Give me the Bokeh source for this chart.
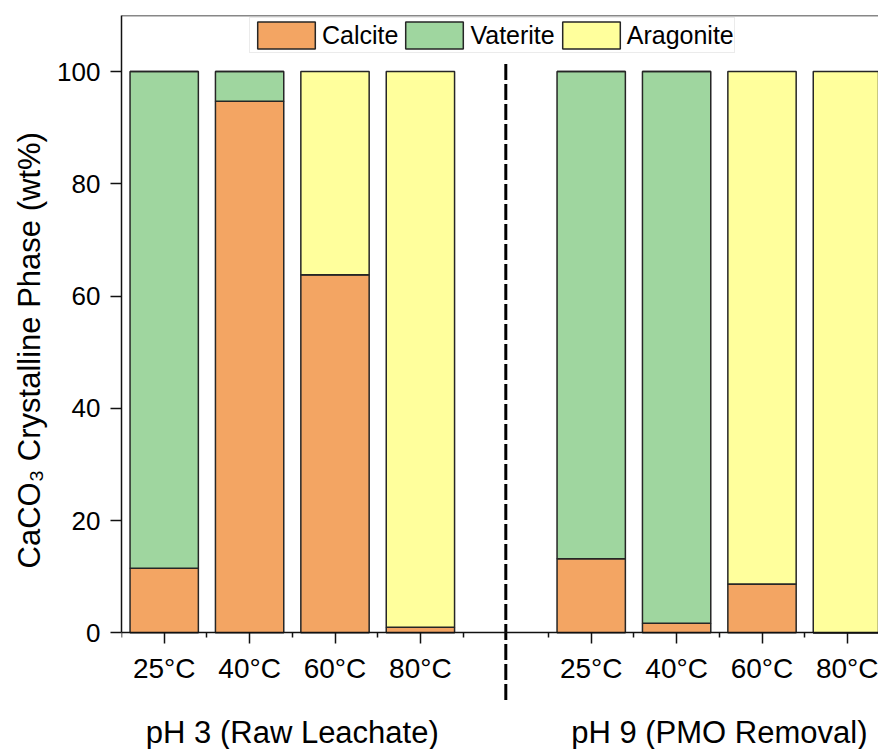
from bokeh.plotting import figure
from bokeh.models import (ColumnDataSource, FixedTicker, LinearAxis, Range1d,
                          Legend, LegendItem, Title)
from bokeh.core.properties import value
from bokeh.embed import file_html
from bokeh.resources import INLINE

# ---- data ----
positions = [1, 2, 3, 4, 6, 7, 8, 9]
temp_labels = ["25°C", "40°C", "60°C", "80°C", "25°C", "40°C", "60°C", "80°C"]
calcite = [11.5, 94.7, 63.8, 1.0, 13.2, 1.7, 8.7, 0.0]
vaterite = [88.5, 5.3, 0.0, 0.0, 86.8, 98.3, 0.0, 0.0]
aragonite = [0.0, 0.0, 36.2, 99.0, 0.0, 0.0, 91.3, 100.0]
phases = ["Calcite", "Vaterite", "Aragonite"]
group_x = [2.5, 7.5]
group_labels = ["pH 3 (Raw Leachate)", "pH 9 (PMO Removal)"]
divider_x = 5
y_ticks = [0, 20, 40, 60, 80, 100]
minor_x = [0.5, 1.5, 2.5, 3.5, 4.5, 5.5, 6.5, 7.5, 8.5, 9.5]
y_title = "CaCO₃ Crystalline Phase (wt%)"

colors = ["#F3A563", "#9FD69F", "#FFFF9C"]
FONT = "Liberation Sans"

src = ColumnDataSource(dict(x=positions, Calcite=calcite, Vaterite=vaterite,
                            Aragonite=aragonite))

p = figure(width=878, height=749, output_backend="svg", toolbar_location=None,
           x_range=Range1d(0.5, 9.364), y_range=Range1d(-20.8, 110),
           x_axis_location=None, y_axis_location=None,
           min_border_left=121, min_border_right=0, min_border_top=15,
           min_border_bottom=0)
p.outline_line_color = None
p.grid.visible = False
p.background_fill_color = "white"

rs = p.vbar_stack(phases, x="x", width=0.8, source=src, color=colors,
                  line_color="#262626", line_width=1.5)

# divider line
p.segment(x0=[divider_x], y0=[-12.0], x1=[divider_x], y1=[101.5],
          line_color="black", line_width=3, line_dash="16 4")

# group labels
p.text(x=group_x, y=[-17.7, -17.7], text=group_labels,
       text_font=value(FONT), text_font_size="31px", text_align="center",
       text_baseline="middle", text_color="black")

# y axis
yax = LinearAxis(ticker=FixedTicker(ticks=y_ticks), bounds=(0, 110))
yax.major_label_text_font = FONT
yax.major_label_text_font_size = "26px"
yax.major_label_text_color = "black"
yax.major_label_standoff = 10
yax.major_tick_out = 11
yax.major_tick_in = 0
yax.minor_tick_line_color = None
yax.axis_line_width = 1.5
yax.major_tick_line_width = 1.5
yax.axis_line_color = "#111111"
yax.major_tick_line_color = "#111111"
p.add_layout(yax, "left")

# y axis title as a side title (so it can be positioned like the original)
ytitle = Title(text=y_title, align="left", offset=181, standoff=16,
               text_font=FONT, text_font_size="31px", text_font_style="normal",
               text_color="black")
p.add_layout(ytitle, "left")

# x axis fixed at y = 0
xax = LinearAxis(ticker=FixedTicker(ticks=positions, minor_ticks=minor_x),
                 fixed_location=0)
xax.major_label_overrides = {pos: lab for pos, lab in zip(positions, temp_labels)}
xax.major_label_text_font = FONT
xax.major_label_text_font_size = "28px"
xax.major_label_text_color = "black"
xax.major_label_standoff = 9
xax.major_tick_out = 11
xax.major_tick_in = 0
xax.minor_tick_out = 5
xax.minor_tick_in = 0
xax.axis_line_width = 1.5
xax.major_tick_line_width = 1.5
xax.minor_tick_line_width = 1.5
xax.axis_line_color = "#111111"
xax.major_tick_line_color = "#111111"
xax.minor_tick_line_color = "#111111"
p.add_layout(xax, "below")

# top border
tax = LinearAxis(ticker=FixedTicker(ticks=[]), fixed_location=110)
tax.axis_line_width = 1.5
tax.axis_line_color = "#111111"
tax.major_tick_line_color = None
tax.minor_tick_line_color = None
tax.major_label_text_font_size = "0px"
p.add_layout(tax, "above")

legend = Legend(items=[LegendItem(label=n, renderers=[r]) for n, r in zip(phases, rs)],
                orientation="horizontal", location=(128, 696))
legend.label_text_font = FONT
legend.label_text_font_size = "25px"
legend.label_text_color = "black"
legend.glyph_width = 72
legend.glyph_height = 34
legend.label_standoff = 0
legend.spacing = 0
legend.padding = 0
legend.margin = 0
legend.border_line_color = "#D8D8D8"
legend.border_line_width = 1
legend.background_fill_alpha = 1
p.add_layout(legend, "center")

open("out.html", "w").write(file_html(p, INLINE))
